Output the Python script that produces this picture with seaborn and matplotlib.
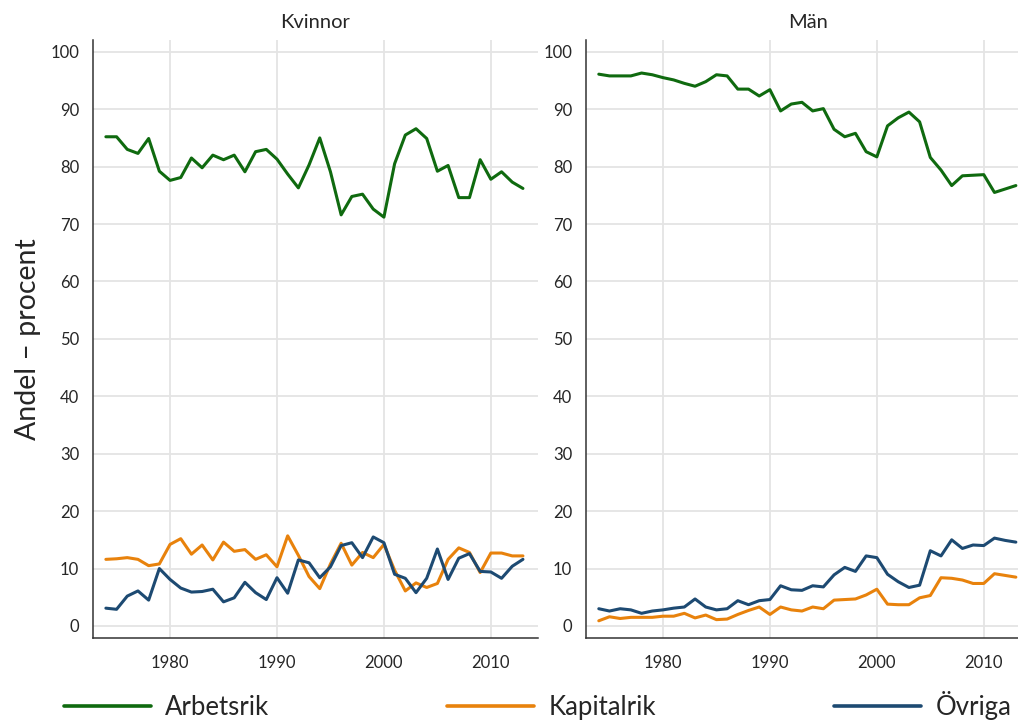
import numpy as np
import pandas as pd
import matplotlib
matplotlib.use("Agg")
import matplotlib.pyplot as plt
from matplotlib.lines import Line2D
import seaborn as sns

years = list(range(1974, 2014))

# Kvinnor
kv_arbetsrik = [85.2, 85.2, 83.0, 82.3, 84.9, 79.2, 77.6, 78.1, 81.5, 79.8,
                82.0, 81.2, 82.0, 79.1, 82.6, 83.0, 81.3, 78.7, 76.3, 80.3,
                85.0, 79.1, 71.6, 74.8, 75.2, 72.6, 71.2, 80.5, 85.5, 86.6,
                84.9, 79.2, 80.2, 74.6, 74.6, 81.2, 77.8, 79.1, 77.3, 76.2]
kv_kapitalrik = [11.6, 11.7, 11.9, 11.6, 10.5, 10.8, 14.2, 15.2, 12.5, 14.1,
                 11.5, 14.6, 13.0, 13.3, 11.6, 12.4, 10.3, 15.7, 12.3, 8.6,
                 6.5, 10.8, 14.4, 10.6, 12.8, 11.9, 14.2, 9.7, 6.1, 7.5,
                 6.7, 7.4, 11.6, 13.6, 12.8, 9.3, 12.7, 12.7, 12.2, 12.2]
kv_ovriga = [3.1, 2.9, 5.2, 6.1, 4.5, 10.0, 8.1, 6.6, 5.9, 6.0,
             6.4, 4.2, 4.9, 7.6, 5.8, 4.6, 8.4, 5.7, 11.5, 11.0,
             8.4, 10.3, 14.0, 14.5, 11.9, 15.5, 14.5, 9.0, 8.3, 5.8,
             8.3, 13.4, 8.1, 11.8, 12.6, 9.5, 9.4, 8.3, 10.4, 11.6]

# Män
man_arbetsrik = [96.1, 95.8, 95.8, 95.8, 96.3, 96.0, 95.5, 95.1, 94.5, 94.0,
                 94.8, 96.0, 95.8, 93.5, 93.5, 92.3, 93.4, 89.7, 90.9, 91.2,
                 89.7, 90.1, 86.5, 85.2, 85.8, 82.6, 81.7, 87.1, 88.5, 89.5,
                 87.8, 81.6, 79.4, 76.7, 78.4, 78.5, 78.6, 75.5, 76.1, 76.7]
man_kapitalrik = [0.9, 1.6, 1.3, 1.5, 1.5, 1.5, 1.7, 1.7, 2.2, 1.4,
                  1.9, 1.1, 1.2, 2.0, 2.7, 3.3, 2.0, 3.3, 2.8, 2.6,
                  3.3, 3.0, 4.5, 4.6, 4.7, 5.4, 6.4, 3.8, 3.7, 3.7,
                  4.9, 5.3, 8.4, 8.3, 8.0, 7.4, 7.4, 9.1, 8.8, 8.5]
man_ovriga = [3.0, 2.6, 3.0, 2.8, 2.2, 2.6, 2.8, 3.1, 3.3, 4.7,
              3.3, 2.8, 3.0, 4.4, 3.7, 4.4, 4.6, 7.0, 6.3, 6.2,
              7.0, 6.8, 8.9, 10.2, 9.5, 12.2, 11.9, 9.0, 7.7, 6.7,
              7.1, 13.1, 12.2, 15.0, 13.5, 14.1, 14.0, 15.3, 14.9, 14.6]

groups = ["Arbetsrik", "Kapitalrik", "Övriga"]
colors = {"Arbetsrik": "#0f6a0f", "Kapitalrik": "#e8820c", "Övriga": "#1d4a72"}

frames = []
for panel, series in [("Kvinnor", [kv_arbetsrik, kv_kapitalrik, kv_ovriga]),
                      ("Män", [man_arbetsrik, man_kapitalrik, man_ovriga])]:
    for g, vals in zip(groups, series):
        frames.append(pd.DataFrame({"year": years, "value": vals, "grupp": g, "panel": panel}))
df = pd.concat(frames, ignore_index=True)

sns.set_style("white")
plt.rcParams["font.family"] = ["Lato", "DejaVu Sans"]

fig = plt.figure(figsize=(10.18, 7.21), dpi=100)
ax1 = fig.add_axes([0.0914, 0.1151, 0.437, 0.829])
ax2 = fig.add_axes([0.5756, 0.1151, 0.437, 0.829])

for ax, panel in [(ax1, "Kvinnor"), (ax2, "Män")]:
    sub = df[df["panel"] == panel]
    sns.lineplot(data=sub, x="year", y="value", hue="grupp", hue_order=groups,
                 palette=colors, linewidth=2.2, legend=False, ax=ax)
    ax.set_xlim(1972.8, 2014.4)
    ax.set_ylim(-2.1, 102)
    ax.set_xticks([1980, 1990, 2000, 2010])
    ax.set_xticks(years, minor=True)
    ax.set_yticks(range(0, 101, 10))
    ax.grid(True, which="major", color="#e4e4e4", linewidth=1.3)
    ax.set_axisbelow(True)
    ax.tick_params(axis="both", which="major", direction="out", length=6,
                   width=1, color="#333333", labelsize=12, pad=4)
    ax.tick_params(axis="x", which="minor", direction="out", length=3.5,
                   width=0.8, color="#333333")
    ax.tick_params(axis="x", which="major", pad=6)
    for s in ["top", "right"]:
        ax.spines[s].set_visible(False)
    for s in ["left", "bottom"]:
        ax.spines[s].set_color("#333333")
        ax.spines[s].set_linewidth(1.1)
    ax.set_xlabel("")
    ax.set_ylabel("")
    ax.set_title(panel, fontsize=14.5, pad=9)

ax1.set_ylabel("Andel – procent", fontsize=20.5, labelpad=7)

# one legend entry per column, spread across the bottom
for g, x0 in zip(groups, [0.045, 0.4215, 0.8016]):
    h = Line2D([0], [0], color=colors[g], linewidth=2.6)
    fig.legend([h], [g], loc="lower left", bbox_to_anchor=(x0, -0.023),
               frameon=False, fontsize=18.5, handlelength=3.4,
               handletextpad=0.55, borderaxespad=0.3)

fig.savefig("out.png", dpi=100)
